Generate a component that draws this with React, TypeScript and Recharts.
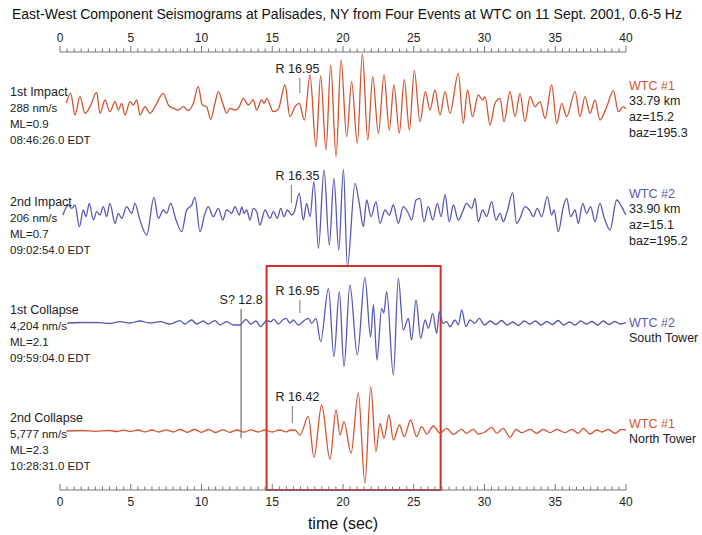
import React from 'react';
import { LineChart, Line, XAxis, YAxis, ReferenceArea, ReferenceLine } from 'recharts';

// seismogram extrema: [time (s), amplitude (px above trace baseline)]
const impact1: [number, number][] = [
  [0.45, 2], [0.75, 11.7], [1.06, -10], [1.41, 8.3], [1.77, -8.3], [2.12, -1.7], [2.59, 12.7], [2.83, -8.3],
  [3.18, 5], [3.53, -6.7], [3.89, 3.3], [4.12, -5], [4.36, 1.7], [4.59, -10], [4.95, 3.3], [5.18, 0],
  [5.42, 5], [5.65, -10], [6.01, -1.7], [6.36, -8.3], [6.71, -1.7], [7.3, 11.7], [7.66, 0], [8.01, -3.3],
  [8.36, -5], [8.72, -1.7], [9.07, -5.7], [9.42, 1.7], [9.77, 18.3], [10.06, 0], [10.36, -1.7], [10.65, -14.3],
  [10.95, 1.7], [11.19, 13.3], [11.5, 1.7], [11.78, -8.3], [12.01, -3.3], [12.37, -5], [12.67, -1.7], [12.95, 6.7],
  [13.31, 0], [13.66, 5], [13.9, -5], [14.25, 5], [14.42, 1.7], [14.61, 6.7], [15.08, -6.7], [15.43, -4.3],
  [15.9, 20], [16.25, -11.7], [16.61, -1.7], [16.91, 1.7], [17.27, -15], [17.67, 30], [18.09, -41.7], [18.42, 29],
  [18.8, -45], [19.13, 40], [19.51, -51.7], [19.86, 45], [20.26, -31.7], [20.61, 23.3], [21.01, -38.3], [21.37, 51],
  [21.75, -35], [22.1, 28.3], [22.5, -28.3], [22.9, 30], [23.27, -25], [23.6, 20], [23.98, -28.3], [24.33, 25.7],
  [24.69, -25], [25.04, 34.3], [25.44, -16.7], [25.82, 13.3], [26.15, -5], [26.5, 15], [26.86, -10], [27.21, 13.3],
  [27.56, -8.3], [28.15, 31.7], [28.5, -18.3], [28.8, 15], [29.15, -11.7], [29.56, 10], [29.87, 5], [30.04, 8.3],
  [30.39, -20], [30.74, 1.7], [31.1, 6.7], [31.38, -16.7], [31.8, 13.3], [32.16, -11.7], [32.51, 11.7], [32.86, -16.7],
  [33.22, 8.3], [33.57, -1.7], [33.92, 3.3], [34.28, -13.3], [34.75, 20], [35.1, -18.3], [35.46, 1.7], [35.81, -11.7],
  [36.4, 13.3], [36.75, -11.7], [37.1, 8.3], [37.46, -8.3], [37.81, 5], [38.16, -15], [38.64, -1.7], [39.11, 14.3],
  [39.46, -6.7], [39.81, -1.7], [40, -4],
];

const impact2: [number, number][] = [
  [0.2, 0], [0.35, 5], [0.59, 10], [0.83, 6.7], [1.06, 10], [1.37, -11.7], [1.65, 5], [1.84, -1.7],
  [2.07, 11.7], [2.36, -5], [2.59, 3.3], [2.83, 0], [3.06, 8.3], [3.3, -1.7], [3.53, 11.7], [3.89, -8.3],
  [4.12, 1.7], [4.36, -3.3], [4.71, 8.3], [5.07, 1.7], [5.3, 11.7], [5.61, -3.3], [6.13, -20], [6.64, 17.7],
  [6.95, -3.3], [7.3, 5], [7.54, 1.7], [7.82, 11.7], [8.2, -5], [8.6, -16.7], [8.95, 5], [9.31, 10],
  [9.54, 17.7], [9.89, -16.7], [10.25, 1.7], [10.48, 8.3], [10.83, -1.7], [11.19, 6.7], [11.5, -5], [11.78, 5],
  [12.13, 1.7], [12.37, 8.3], [12.67, 0], [12.85, 8], [13.0, 1.7], [13.19, 5], [13.43, -5], [13.66, 6.7],
  [13.9, 3.3], [14.13, -10], [14.49, 5], [14.84, -3.3], [15.08, 3.3], [15.36, -3.3], [15.6, 6.7], [15.83, -1.7],
  [16.07, 5], [16.37, 0], [16.56, 3.3], [16.91, 21.7], [17.2, -5], [17.43, 11.7], [17.67, -1.7], [17.95, 33.3],
  [18.26, -33.3], [18.66, 45], [19.03, -30], [19.36, 36.7], [19.7, -35], [20.03, 45.7], [20.31, -51.7], [20.85, 31.7],
  [21.15, 11.7], [21.44, -11.7], [21.67, 15], [21.98, -1.7], [22.33, 13.3], [22.61, -8.3], [22.97, 5], [23.27, 0],
  [23.56, 10], [23.91, -8.3], [24.26, 8.3], [24.62, 1.7], [24.85, -5], [25.16, 15], [25.44, 16.7], [25.72, -6.7],
  [26.03, 8.3], [26.34, -5], [26.67, 11.7], [26.93, -1.7], [27.21, 20], [27.51, -6.7], [27.8, 10], [28.15, -5],
  [28.45, 3.3], [28.73, 11.7], [29.1, 6.7], [29.33, 16.7], [29.56, -6.7], [29.87, 5], [30.15, -1.7], [30.51, 13.3],
  [30.81, -5], [31.1, 1.7], [31.33, -6.7], [31.57, 1.7], [31.99, 22.3], [32.27, -8.3], [32.51, -3.3], [32.86, 8.3],
  [33.17, 5], [33.45, -1.7], [33.73, 6.7], [34.04, -1.7], [34.44, 18.3], [34.75, 0], [34.91, 5], [35.22, -16.7],
  [35.57, 8.3], [35.81, 16.7], [36.09, -1.7], [36.4, 5], [36.63, -8.3], [36.94, 11.7], [37.22, 1.7], [37.5, 8.3],
  [37.81, -6.7], [38.16, 11.7], [38.47, -3.3], [38.87, -15], [39.34, 15], [39.69, 8.3], [39.98, 0],
];

const collapse1: [number, number][] = [
  [0.5, 0], [1.5, 0.5], [2.83, 0.3], [3.5, -0.5], [4.24, 1.3], [4.95, 0], [5.65, 2], [6.36, 0],
  [7.07, 1.3], [7.77, -1], [8.48, 2.3], [8.83, -1], [9.31, 3], [9.66, -1], [10.13, 2], [10.48, -1],
  [10.95, 2.3], [11.31, -2], [11.78, 1.3], [12.25, -2], [12.72, -2], [13.14, 3.7], [13.48, -1], [13.85, 2],
  [14.18, -3.7], [14.61, 2.3], [14.89, 1.3], [15.12, 3.7], [15.43, -1], [15.74, 3], [15.97, 4.7], [16.25, 0],
  [16.49, 3], [16.84, -2], [17.31, 3], [17.55, 4.7], [17.79, -0.3], [18.09, 4.7], [18.42, -18.7], [18.97, 34.7],
  [19.36, -33.7], [19.74, 31.3], [20.07, -43.7], [20.49, 38], [21.01, -32], [21.55, 45.7], [21.95, -14], [22.15, 18],
  [22.4, -37], [22.73, 14.7], [22.88, 10], [23.09, 31.3], [23.56, -52], [23.91, 44.7], [24.26, -7], [24.62, 4.7],
  [24.85, -17], [25.16, 23], [25.49, -15.3], [25.8, 3], [26.03, -5.3], [26.34, 9.7], [26.62, -10.3], [26.81, 11.3],
  [27.06, -0.3], [27.33, 1.3], [27.56, -3.7], [27.92, 3], [28.15, -2], [28.39, 13], [28.69, -3.7], [28.98, 3],
  [29.33, -0.3], [29.63, 4.7], [30.0, -2], [30.4, 2], [30.8, -1.5], [31.2, 2.5], [31.6, -2], [32.0, 1],
  [32.4, -2.5], [32.8, 2], [33.2, -1], [33.6, 2], [34.0, -2], [34.4, 1.5], [34.8, -1.5], [35.2, 2.5],
  [35.6, -2], [36.0, 1], [36.4, -2], [36.8, 2], [37.2, -1], [37.6, 1.5], [38.0, -2], [38.4, 2],
  [38.8, -1.5], [39.2, 1.5], [39.6, -1], [40.0, 0.5],
];

const collapse2: [number, number][] = [
  [0.45, 0], [1.5, 0.5], [2.5, -0.3], [3.5, 0.5], [4.0, -0.5], [4.5, 0.8], [5.0, -0.5], [5.5, 1],
  [6.0, -0.8], [6.5, 1], [7.0, -1], [7.5, 1.2], [8.0, -1], [8.5, 1.5], [9.0, -1.3], [9.5, 1.5],
  [10.0, -1.3], [10.5, 1.5], [11.0, -1.5], [11.5, 1.2], [12.0, -1.3], [12.5, 1], [13.0, -1.2], [13.5, 1.2],
  [14.0, -1], [14.5, 1], [15.0, -1], [15.5, 1], [16.0, -0.8], [16.3, 1], [16.61, 1], [16.96, -4],
  [17.55, 14.3], [17.95, -26.3], [18.49, 26], [19.08, -28.3], [19.51, 21], [19.79, -4], [20.07, 9.3], [20.57, -22.3],
  [21.08, 38.3], [21.55, -52.3], [21.96, 44.3], [22.33, -20.7], [22.61, 7.7], [22.9, -7.3], [23.25, 16], [23.56, -9],
  [23.98, 6], [24.33, -5.7], [24.78, 11], [25.2, -5.7], [25.56, 4.3], [25.92, -3], [26.39, 5], [26.86, -2.3],
  [27.33, 2.7], [27.8, -3.3], [28.39, 1.7], [28.73, -2.3], [29.21, 1.7], [29.56, -3], [30.04, -1], [30.51, 3.7],
  [30.86, -2.3], [31.33, 2.7], [31.8, -6.3], [32.23, 1.7], [32.63, -1.7], [33.22, 1.7], [33.69, -2.3], [34.16, 1.7],
  [34.63, -1.7], [35.1, 1.7], [35.69, -1.7], [36.16, 1.7], [36.63, -2.3], [36.98, 2.7], [37.46, -3], [37.93, 1],
  [38.3, -1], [38.75, 1.7], [39.22, -2.3], [39.69, 1.7], [40.0, 1],
];

const leftLabels = [
  ['1st Impact', '288 nm/s', 'ML=0.9', '08:46:26.0 EDT'],
  ['2nd Impact', '206 nm/s', 'ML=0.7', '09:02:54.0 EDT'],
  ['1st Collapse', '4,204 nm/s', 'ML=2.1', '09:59:04.0 EDT'],
  ['2nd Collapse', '5,777 nm/s', 'ML=2.3', '10:28:31.0 EDT'],
];
const rightLabels = [
  ['WTC #1', '33.79 km', 'az=15.2', 'baz=195.3'],
  ['WTC #2', '33.90 km', 'az=15.1', 'baz=195.2'],
  ['WTC #2', 'South Tower'],
  ['WTC #1', 'North Tower'],
];
const rPicks = [16.95, 16.35, 16.95, 16.42];
const sPick = 12.8;
const boxRange = [14.6, 26.9];

const RED = '#d4532f';
const BLUE = '#5659b3';

const W = 702;
const H = 535;
const TOP = 52;
const BOTTOM = 490;
const LEFT = 60;
const RIGHT = 626;
const AXIS_H = 1;
const PX_PER_SEC = (RIGHT - LEFT) / 40;

const allTicks = Array.from({ length: 81 }, (_, i) => i * 0.5);

const traces = [
  { id: 'a', pts: impact1, color: RED, base: 105, rTop: 27, rBot: 12, rightY: 85 },
  { id: 'b', pts: impact2, color: BLUE, base: 215, rTop: 30, rBot: 12, rightY: 193 },
  { id: 'c', pts: collapse1, color: BLUE, base: 323, rTop: 23, rBot: 10, rightY: 322 },
  { id: 'd', pts: collapse2, color: RED, base: 431, rTop: 25, rBot: 8, rightY: 423 },
];

const font = '"Liberation Sans", Arial, Helvetica, sans-serif';

const makeTick = (top: boolean) => (props: any) => {
  const { x, y, payload } = props;
  const v = payload.value;
  const major = Math.abs(v % 5) < 1e-6;
  return (
    <g>
      <line x1={x} x2={x} y1={y} y2={y - (major ? 6 : 3.5)} stroke="#777" strokeWidth={1} />
      {major && (
        <text x={x} y={top ? y - 10 : y + 16} textAnchor="middle" fontSize={12} fill="#222" fontFamily={font}>
          {v}
        </text>
      )}
    </g>
  );
};

export default function App() {
  return (
    <div style={{ position: 'absolute', left: 0, top: 0, width: W, height: H, background: '#fff', fontFamily: font }}>
      <LineChart
        width={W}
        height={H}
        margin={{ top: TOP - AXIS_H, bottom: H - BOTTOM - AXIS_H, left: LEFT, right: W - RIGHT }}
      >
        <XAxis
          xAxisId="top"
          orientation="top"
          type="number"
          dataKey="t"
          domain={[0, 40]}
          ticks={allTicks}
          interval={0}
          height={AXIS_H}
          tickSize={0}
          tickMargin={0}
          tickLine={false}
          tick={makeTick(true)}
          stroke="#777"
          allowDataOverflow
        />
        <XAxis
          xAxisId="bottom"
          orientation="bottom"
          type="number"
          dataKey="t"
          domain={[0, 40]}
          ticks={allTicks}
          interval={0}
          height={AXIS_H}
          tickSize={0}
          tickMargin={0}
          tickLine={false}
          tick={makeTick(false)}
          stroke="#777"
          allowDataOverflow
        />
        {traces.map((tr) => (
          <YAxis
            key={tr.id}
            yAxisId={tr.id}
            hide
            type="number"
            domain={[-(BOTTOM - tr.base), tr.base - TOP]}
            allowDataOverflow
          />
        ))}
        <ReferenceArea
          xAxisId="bottom"
          yAxisId="c"
          x1={boxRange[0]}
          x2={boxRange[1]}
          y1={-(BOTTOM - 323)}
          y2={57}
          fill="none"
          stroke="#d42b2b"
          strokeWidth={2}
          ifOverflow="visible"
        />
        <ReferenceLine
          xAxisId="bottom"
          yAxisId="c"
          segment={[{ x: sPick, y: 14 }, { x: sPick, y: -115 }]}
          stroke="#8a8a8a"
          strokeWidth={1.5}
          ifOverflow="visible"
          label={{ value: `S? ${sPick}`, position: 'top', fontSize: 12.5, fill: '#222', offset: 5, fontFamily: font }}
        />
        {traces.map((tr, i) => (
          <ReferenceLine
            key={`r-${tr.id}`}
            xAxisId="bottom"
            yAxisId={tr.id}
            segment={[{ x: rPicks[i], y: tr.rTop }, { x: rPicks[i], y: tr.rBot }]}
            stroke="#777"
            strokeWidth={1}
            ifOverflow="visible"
            label={{
              value: `R ${rPicks[i].toFixed(2)}`,
              position: 'top',
              fontSize: 12.5,
              fill: '#222',
              offset: 5,
              fontFamily: font,
              // picks' labels share a common left edge in the figure
              dx: 297.5 - (LEFT + rPicks[i] * PX_PER_SEC),
            }}
          />
        ))}
        {traces.map((tr) => (
          <Line
            key={tr.id}
            xAxisId="bottom"
            yAxisId={tr.id}
            data={tr.pts.map(([t, v]) => ({ t, v }))}
            dataKey="v"
            type="monotone"
            stroke={tr.color}
            strokeWidth={1.3}
            dot={false}
            activeDot={false}
            isAnimationActive={false}
          />
        ))}
      </LineChart>
      <svg width={W} height={H} style={{ position: 'absolute', left: 0, top: 0, pointerEvents: 'none' }} fontFamily={font}>
        <text x={12} y={19} fontSize={14} fill="#111">
          East-West Component Seismograms at Palisades, NY from Four Events at WTC on 11 Sept. 2001, 0.6-5 Hz
        </text>
        <text x={343} y={529} fontSize={16} fill="#111" textAnchor="middle">
          time (sec)
        </text>
        {traces.map((tr, i) => (
          <g key={`l-${tr.id}`}>
            {leftLabels[i].map((s, j) => (
              <text key={j} x={10} y={tr.base - 13 + j * 16 + 4} fontSize={j === 0 ? 12.5 : 11.5} fill="#222">
                {s}
              </text>
            ))}
            {rightLabels[i].map((s, j) => (
              <text key={`r${j}`} x={629} y={tr.rightY + j * 15.7 + 4.5} fontSize={12.5} fill={j === 0 ? tr.color : '#222'}>
                {s}
              </text>
            ))}
          </g>
        ))}
      </svg>
    </div>
  );
}
